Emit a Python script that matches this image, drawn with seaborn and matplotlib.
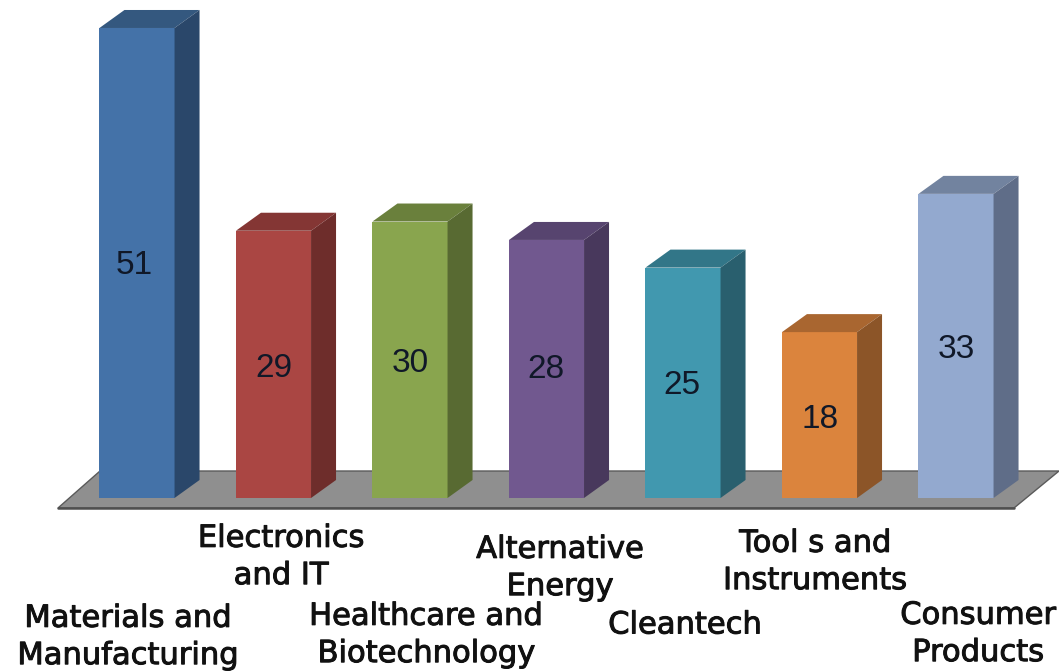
import matplotlib
matplotlib.use("Agg")
import matplotlib.pyplot as plt
from matplotlib.patches import Polygon
import matplotlib.patheffects as pe
import seaborn as sns
import pandas as pd

categories = ["Materials and\nManufacturing", "Electronics\nand IT", "Healthcare and\nBiotechnology",
              "Alternative\nEnergy", "Cleantech", "Tool s and\nInstruments", "Consumer\nProducts"]
values = [51, 29, 30, 28, 25, 18, 33]
front_colors = ["#4472A8", "#AA4643", "#89A54E", "#71588F", "#4198AF", "#DB843D", "#93A9CF"]
top_colors = ["#34587F", "#843634", "#6A803C", "#57446F", "#327688", "#A96630", "#72839F"]
side_colors = ["#2A476A", "#6E2D2B", "#586A32", "#48385C", "#295F6E", "#8C5528", "#5F6D88"]
label_px = [(128, 637), (281, 557), (426, 635), (560, 568), (685, 625), (815, 562), (978, 634)]
value_label_px = [(134, 266), (274, 368), (410, 363), (546, 370), (682, 386), (820, 419), (956, 350)]

W, H = 1059, 672
PX_X = 136.5
PX_Y = 9.216
X0, Y0 = 137, 498
DX, DY = 25 / PX_X, 18 / PX_Y

sns.set_theme(style="white")
plt.rcParams["font.family"] = ["Liberation Sans", "DejaVu Sans"]
fig = plt.figure(figsize=(W / 100, H / 100), dpi=100, facecolor="white")
ax = fig.add_axes([0, 0, 1, 1])

def px(x, y):
    return (x - X0) / PX_X, (Y0 - y) / PX_Y

floor = [px(58, 508), px(1014, 508), px(1059, 471), px(100, 471)]
ax.add_patch(Polygon(floor, closed=True, facecolor="#8F8F8F", edgecolor="#5A5A5A", lw=1.0, zorder=0))
(fx0, fy0), (fx1, fy1) = floor[0], floor[1]
ax.plot([fx0, fx1], [fy0, fy1], color="#4F4F4F", lw=1.8, zorder=1)

df = pd.DataFrame({"category": categories, "value": values})
sns.barplot(data=df, x="category", y="value", hue="category", palette=front_colors,
            legend=False, width=0.55, saturation=1, linewidth=0, edgecolor="none", ax=ax, zorder=3)

for i, v in enumerate(values):
    l, r = i - 0.275, i + 0.275
    ax.add_patch(Polygon([(l, v), (r, v), (r + DX, v + DY), (l + DX, v + DY)],
                         closed=True, facecolor=top_colors[i], edgecolor="none", zorder=3))
    ax.add_patch(Polygon([(r, 0), (r + DX, DY), (r + DX, v + DY), (r, v)],
                         closed=True, facecolor=side_colors[i], edgecolor="none", zorder=3))
    tx, ty = value_label_px[i]
    ax.text(tx / W, 1 - ty / H, str(v), transform=ax.transAxes, ha="center", va="center",
            fontsize=24, color="#101828", zorder=5)

for label, (tx, ty) in zip(categories, label_px):
    ax.text(tx / W, 1 - ty / H, label, transform=ax.transAxes, ha="center", va="center",
            fontsize=22, family="DejaVu Sans", color="#111111", linespacing=1.36,
            path_effects=[pe.withStroke(linewidth=0.7, foreground="#111111")])

ax.set_xlim((0 - X0) / PX_X, (W - X0) / PX_X)
ax.set_ylim((Y0 - H) / PX_Y, Y0 / PX_Y)
ax.axis("off")
fig.savefig("out.png", dpi=100, facecolor="white")
